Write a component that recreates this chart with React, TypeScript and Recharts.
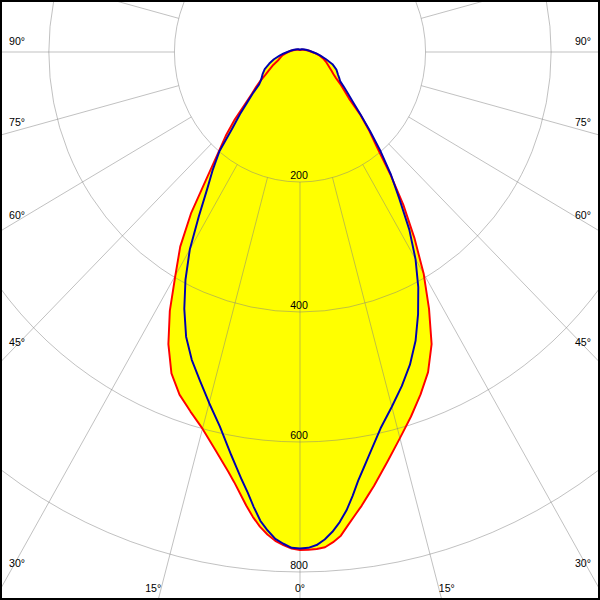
import React from "react";
import {
  RadarChart,
  Radar,
  PolarGrid,
  PolarAngleAxis,
  PolarRadiusAxis,
} from "recharts";

// gamma angle (0 = straight down, positive = right half), candela values
const angles = [
  -180, -165, -150, -135, -120, -110, -100, -90, -85, -80, -75, -70, -65, -60,
  -57.5, -55, -52.5, -50, -47.5, -45, -42.5, -40, -37.5, -35, -32.5, -30,
  -27.5, -25, -22.5, -20, -17.5, -15, -12.5, -10, -9, -8, -7, -6, -5, -4, -3,
  -2, -1, 0, 1, 2, 3, 4, 5, 6, 7, 8, 9, 10, 12.5, 15, 17.5, 20, 22.5, 25, 27.5,
  30, 32.5, 35, 37.5, 40, 42.5, 45, 47.5, 50, 52.5, 55, 57.5, 60, 65, 70, 75,
  80, 85, 90, 100, 110, 120, 135, 150, 165, 180,
];

const redValues = [
  3, 3, 4, 5, 7, 9, 13, 19, 23, 28, 32, 37, 47, 58,
  65, 77, 88, 100, 119, 147, 175, 203, 243, 302, 355, 397,
  449, 496, 535, 561, 580, 600, 626, 656, 670, 686, 703, 719, 733, 744, 753,
  759, 764, 766, 766, 765, 763, 756, 747, 732, 718, 705, 691, 678, 645, 615,
  588, 561, 533, 496, 445, 394, 339, 287, 235, 190, 162, 135, 106, 92, 81, 70,
  63, 58, 50, 44, 38, 32, 25, 19, 13, 9, 7, 5, 4, 3, 3,
];

const blueValues = [
  4, 4, 5, 6, 8, 10, 14, 20, 26, 33, 43, 52, 62, 69,
  72, 76, 82, 97, 113, 135, 160, 200, 228, 258, 300, 351,
  395, 436, 474, 504, 530, 559, 590, 630, 647, 665, 683, 704, 724, 738, 750,
  757, 763, 764, 763, 759, 751, 740, 726, 709, 688, 666, 648, 631, 593, 565,
  539, 512, 481, 445, 408, 368, 324, 276, 238, 200, 165, 137, 115, 100, 88, 78,
  74, 70, 64, 55, 43, 33, 26, 20, 14, 10, 8, 6, 5, 4, 4,
];

const gridAngles = [
  -180, -165, -150, -135, -120, -105, -90, -75, -60, -45, -30, -15, 0, 15, 30,
  45, 60, 75, 90, 105, 120, 135, 150, 165,
];

const radiusTicks = [200, 400, 600, 800, 1000];

const data = angles.map((angle, i) => ({
  angle,
  red: redValues[i],
  blue: blueValues[i],
}));

// the original picture is slightly narrower than it is tall
const SQUEEZE = 0.966;
const WIDTH = 600 / SQUEEZE;
const HEIGHT = 600;
const CX = 300 / SQUEEZE;
const CY = 52;
const PX_PER_CD = 0.65;
const FONT = '"Liberation Sans", Arial, sans-serif';

const AngleTick = (props: any) => {
  const v = props.payload?.value ?? 0;
  if (Math.abs(v) > 90) return <g />;
  const rad = (Math.abs(v) * Math.PI) / 180;
  const side = v < 0 ? -1 : 1;
  const edgeY = v === 0 ? Infinity : CY + 291 / (SQUEEZE * Math.tan(rad));
  let x: number;
  let y: number;
  let anchor: "start" | "end" | "middle";
  if (edgeY < 585) {
    x = side < 0 ? 9 : 591;
    y = edgeY - 11;
    anchor = side < 0 ? "start" : "end";
  } else {
    y = 588.5;
    x = 300 + side * (588 - CY) * SQUEEZE * Math.tan(rad);
    anchor = v === 0 ? "middle" : side < 0 ? "end" : "start";
  }
  return (
    <text
      x={x / SQUEEZE}
      y={y + 4}
      textAnchor={anchor}
      fontSize={11}
      fontFamily={FONT}
      fill="#000"
    >
      {`${Math.abs(v)}°`}
    </text>
  );
};

const RadiusTick = (props: any) => {
  const { x, y, payload } = props;
  if (payload.value >= 1000) return <g />;
  return (
    <text
      x={x - 1}
      y={y - 3}
      textAnchor="middle"
      fontSize={11}
      fontFamily={FONT}
      fill="#000"
    >
      {payload.value}
    </text>
  );
};

const chartProps = {
  width: WIDTH,
  height: HEIGHT,
  data,
  cx: CX,
  cy: CY,
  innerRadius: 200 * PX_PER_CD,
  outerRadius: 1000 * PX_PER_CD,
  startAngle: -270,
  endAngle: 90,
  margin: { top: 0, right: 0, bottom: 0, left: 0 },
};

const layer: React.CSSProperties = {
  position: "absolute",
  left: 0,
  top: 0,
  width: WIDTH,
  height: HEIGHT,
  transform: `scaleX(${SQUEEZE})`,
  transformOrigin: "0 0",
};

const App = () => {
  return (
    <div
      style={{
        position: "relative",
        width: 600,
        height: 600,
        overflow: "hidden",
        background: "#fff",
      }}
    >
      <style>{"body{margin:0}"}</style>

      {/* yellow fill below the grid */}
      <div style={layer}>
        <RadarChart {...chartProps}>
          <PolarAngleAxis
            dataKey="angle"
            type="number"
            domain={[-180, 180]}
            ticks={gridAngles}
            axisLine={false}
            tick={false}
          />
          <PolarRadiusAxis
            angle={-90}
            type="number"
            domain={[200, 1000]}
            allowDataOverflow
            ticks={radiusTicks}
            tickCount={5}
            axisLine={false}
            tick={false}
          />
          <Radar
            dataKey="red"
            stroke="none"
            fill="#ffff00"
            fillOpacity={1}
            dot={false}
            activeDot={false}
            isAnimationActive={false}
          />
          <Radar
            dataKey="blue"
            stroke="none"
            fill="#ffff00"
            fillOpacity={1}
            dot={false}
            activeDot={false}
            isAnimationActive={false}
          />
        </RadarChart>
      </div>

      {/* grid, labels and the two curves */}
      <div style={layer}>
        <RadarChart {...chartProps}>
          <PolarGrid gridType="circle" stroke="#808080" strokeOpacity={0.5} />
          <PolarAngleAxis
            dataKey="angle"
            type="number"
            domain={[-180, 180]}
            ticks={gridAngles}
            axisLine={false}
            tickLine={false}
            tick={<AngleTick />}
          />
          <PolarRadiusAxis
            angle={-90}
            type="number"
            domain={[200, 1000]}
            allowDataOverflow
            ticks={radiusTicks}
            tickCount={5}
            axisLine={false}
            tick={<RadiusTick />}
          />
          <Radar
            dataKey="red"
            stroke="#ff0000"
            strokeWidth={2}
            strokeLinejoin="round"
            fill="none"
            dot={false}
            activeDot={false}
            isAnimationActive={false}
          />
          <Radar
            dataKey="blue"
            stroke="#0000b0"
            strokeWidth={2}
            strokeLinejoin="round"
            fill="none"
            dot={false}
            activeDot={false}
            isAnimationActive={false}
          />
        </RadarChart>
      </div>

      <div
        style={{
          position: "absolute",
          inset: 0,
          border: "2px solid #000",
          boxSizing: "border-box",
          pointerEvents: "none",
        }}
      />
    </div>
  );
};

export default App;
